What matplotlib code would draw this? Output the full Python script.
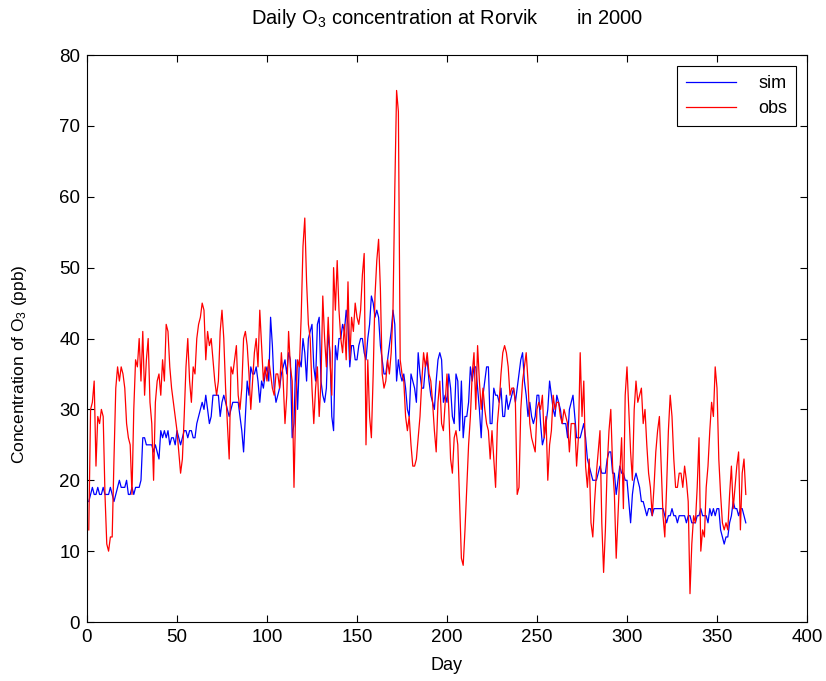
import numpy as np
import matplotlib
matplotlib.use('Agg')
import matplotlib.pyplot as plt
from matplotlib import font_manager

# Daily O3 at Rorvik, 2000 (ppb), one value per day
SIM = [
    17, 18, 19, 18, 18, 19, 18, 18, 19, 18,
    18, 18, 19, 18, 17, 18, 19, 20, 19, 19,
    19, 20, 18, 18, 19, 18, 19, 19, 19, 20,
    26, 26, 25, 25, 25, 25, 24, 25, 24, 23,
    27, 26, 27, 26, 27, 25, 26, 26, 25, 27,
    26, 25, 26, 27, 27, 26, 27, 27, 26, 26,
    28, 29, 30, 31, 30, 32, 30, 28, 29, 32,
    32, 32, 32, 29, 31, 32, 31, 30, 29, 30,
    31, 31, 31, 31, 29, 27, 24, 29, 34, 32,
    36, 35, 35, 36, 34, 31, 34, 33, 35, 36,
    34, 43, 39, 33, 31, 32, 33, 35, 36, 37,
    35, 38, 37, 26, 28, 37, 30, 37, 36, 40,
    38, 34, 40, 41, 42, 36, 34, 42, 43, 34,
    32, 31, 33, 41, 38, 29, 27, 39, 37, 40,
    40, 42, 41, 44, 42, 36, 39, 39, 37, 37,
    39, 40, 40, 38, 37, 40, 42, 46, 45, 43,
    44, 43, 39, 37, 35, 35, 37, 39, 41, 44,
    42, 34, 37, 35, 34, 35, 33, 30, 29, 35,
    34, 33, 31, 38, 35, 33, 33, 36, 37, 34,
    32, 31, 30, 34, 37, 38, 37, 31, 32, 31,
    35, 33, 29, 28, 35, 34, 27, 34, 26, 29,
    29, 31, 36, 34, 36, 36, 33, 30, 26, 32,
    34, 36, 36, 28, 28, 33, 32, 32, 31, 33,
    29, 29, 32, 30, 31, 32, 33, 31, 33, 35,
    37, 38, 34, 32, 29, 31, 29, 28, 29, 32,
    32, 28, 25, 26, 28, 30, 34, 32, 30, 29,
    32, 31, 30, 28, 28, 28, 26, 30, 31, 32,
    29, 26, 26, 26, 27, 28, 26, 23, 22, 21,
    20, 20, 20, 21, 22, 21, 21, 21, 23, 24,
    24, 21, 21, 18, 20, 22, 21, 21, 20, 20,
    17, 14, 18, 20, 21, 20, 19, 17, 17, 16,
    15, 16, 16, 15, 16, 16, 16, 16, 16, 16,
    15, 14, 15, 15, 16, 15, 15, 14, 15, 15,
    15, 15, 14, 15, 15, 14, 14, 14, 15, 15,
    16, 15, 15, 15, 14, 16, 15, 16, 15, 16,
    16, 13, 12, 11, 12, 12, 14, 15, 17, 16,
    16, 15, 16, 16, 15, 14,
]

OBS = [
    13, 30, 31, 34, 22, 29, 28, 30, 29, 18,
    11, 10, 12, 12, 23, 33, 36, 34, 36, 35,
    33, 28, 26, 25, 18, 30, 37, 36, 40, 34,
    41, 32, 37, 40, 31, 28, 20, 31, 34, 35,
    32, 37, 34, 42, 41, 36, 33, 31, 29, 27,
    24, 21, 23, 29, 36, 40, 34, 31, 36, 35,
    40, 42, 43, 45, 44, 37, 41, 39, 40, 37,
    34, 32, 34, 41, 44, 40, 33, 28, 23, 36,
    35, 37, 39, 32, 30, 33, 40, 41, 39, 35,
    30, 34, 38, 40, 36, 44, 39, 34, 36, 34,
    37, 35, 33, 32, 35, 35, 33, 38, 34, 28,
    32, 41, 36, 34, 19, 31, 37, 36, 43, 53,
    57, 48, 42, 40, 33, 28, 33, 36, 29, 34,
    46, 40, 36, 43, 37, 32, 50, 44, 51, 44,
    40, 38, 42, 37, 48, 37, 43, 41, 45, 43,
    42, 44, 49, 52, 25, 37, 29, 26, 35, 46,
    51, 54, 47, 35, 33, 34, 37, 35, 38, 44,
    61, 75, 72, 37, 35, 34, 29, 27, 29, 25,
    22, 22, 23, 26, 29, 34, 38, 36, 38, 35,
    34, 31, 27, 24, 31, 34, 28, 27, 31, 35,
    30, 23, 21, 26, 27, 25, 17, 9, 8, 13,
    19, 25, 29, 35, 38, 30, 39, 34, 30, 33,
    30, 28, 27, 23, 27, 23, 19, 28, 31, 35,
    38, 39, 38, 36, 32, 33, 33, 31, 18, 19,
    30, 34, 36, 38, 34, 28, 26, 25, 24, 30,
    31, 30, 32, 26, 29, 20, 25, 27, 32, 30,
    31, 31, 29, 28, 30, 29, 28, 24, 28, 28,
    28, 22, 26, 38, 29, 34, 22, 19, 23, 14,
    12, 17, 21, 24, 27, 14, 7, 13, 22, 27,
    30, 22, 18, 9, 15, 21, 26, 16, 32, 36,
    30, 24, 20, 30, 34, 31, 32, 33, 28, 30,
    25, 21, 19, 15, 19, 24, 27, 29, 22, 15,
    12, 19, 27, 32, 29, 23, 19, 19, 21, 21,
    19, 22, 20, 17, 4, 11, 15, 14, 19, 26,
    10, 13, 12, 19, 22, 27, 31, 29, 36, 33,
    23, 18, 14, 13, 14, 13, 18, 22, 16, 19,
    22, 24, 13, 21, 23, 18,
]

days_sim = np.arange(1, len(SIM) + 1)
days_obs = np.arange(1, len(OBS) + 1)

plt.rcParams['font.family'] = ['Liberation Sans', 'DejaVu Sans']
plt.rcParams['mathtext.default'] = 'regular'

# narrow face for the tick numbers if it is there
installed = {f.name for f in font_manager.fontManager.ttflist}
tick_font = 'Liberation Sans Narrow' if 'Liberation Sans Narrow' in installed else 'Liberation Sans'
tick_size = 16 if tick_font == 'Liberation Sans Narrow' else 13.5

fig = plt.figure(figsize=(8.26, 6.81), dpi=100)
ax = fig.add_axes([0.1053, 0.0866, 0.8717, 0.8326])

ax.plot(days_sim, SIM, color='#0000ff', lw=0.9, label='sim')
ax.plot(days_obs, OBS, color='#ff0000', lw=0.9, label='obs')

ax.set_xlim(0, 400)
ax.set_ylim(0, 80)
ax.set_xticks(np.arange(0, 401, 50))
ax.set_yticks(np.arange(0, 81, 10))
ax.tick_params(direction='in', top=True, right=True, length=5, width=0.8,
               labelsize=tick_size, labelfontfamily=tick_font, pad=5)
for s in ax.spines.values():
    s.set_linewidth(0.8)

ax.set_title('Daily O$_3$ concentration at Rorvik       in 2000', fontsize=14.5, pad=22)
ax.set_xlabel('Day', fontsize=13, labelpad=8)
ax.set_ylabel('Concentration of O$_3$ (ppb)', fontsize=12.5)
ax.yaxis.set_label_coords(-0.081, 0.455)

leg = ax.legend(loc='upper right', fontsize=13, frameon=True, fancybox=False,
                borderaxespad=0.6, handlelength=2.8, labelspacing=0.45,
                borderpad=0.5, handletextpad=1.2)
leg.get_frame().set_edgecolor('black')
leg.get_frame().set_linewidth(0.8)
leg.get_frame().set_alpha(1)

fig.savefig('out.png', dpi=100)
